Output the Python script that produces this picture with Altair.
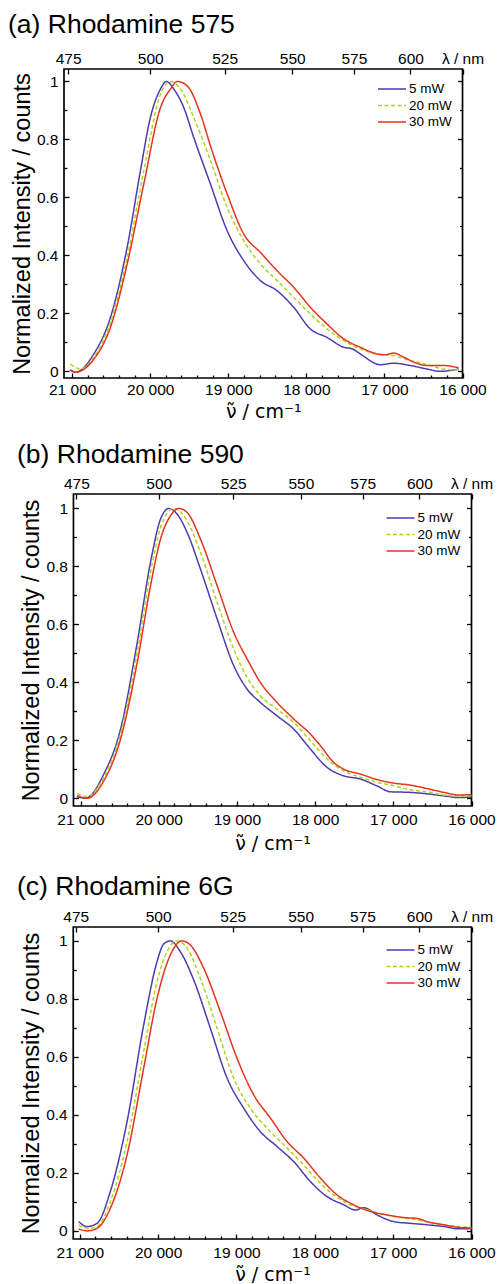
import altair as alt
import pandas as pd

FONT = "Liberation Sans"
SERIES = ["5 mW", "20 mW", "30 mW"]
COLORS = ["#4B3DAF", "#AFD31B", "#E5331D"]
DASHES = [[1, 0], [4, 2.5], [1, 0]]

X_MAJOR = [21000, 20000, 19000, 18000, 17000, 16000]
X_MINOR = [20800, 20600, 20400, 20200, 19800, 19600, 19400, 19200, 18800, 18600,
           18400, 18200, 17800, 17600, 17400, 17200, 16800, 16600, 16400, 16200]
NM_TICKS = [475, 500, 525, 550, 575, 600]
Y_MAJOR = [0, 0.2, 0.4, 0.6, 0.8, 1]
Y_MINOR = [0.1, 0.3, 0.5, 0.7, 0.9]

# ---- (a) Rhodamine 575 ----
A5_NU = [21030, 20958, 20723, 20510, 20296, 20126, 19998, 19869, 19793, 19699, 19571, 19443,
         19229, 19015, 18803, 18589, 18375, 18163, 17949, 17735, 17522, 17415, 17309, 17053,
         16882, 16668, 16455, 16284, 16050]
A5_Y = [0.005, -0.003, 0.06, 0.186, 0.428, 0.692, 0.876, 0.974, 1.0, 0.974, 0.91, 0.807,
        0.646, 0.485, 0.382, 0.313, 0.278, 0.221, 0.146, 0.117, 0.083, 0.078, 0.06, 0.023,
        0.028, 0.02, 0.008, 0.0, 0.008]
A20_NU = [21022, 20894, 20723, 20510, 20296, 20083, 19869, 19741, 19613, 19443, 19229, 19015,
          18803, 18589, 18375, 18163, 17949, 17735, 17522, 17309, 17095, 16882, 16668, 16455,
          16242, 16050]
A20_Y = [0.025, 0.008, 0.048, 0.169, 0.393, 0.692, 0.956, 1.0, 0.974, 0.876, 0.727, 0.566,
         0.451, 0.37, 0.313, 0.255, 0.198, 0.146, 0.106, 0.077, 0.06, 0.054, 0.037, 0.023,
         0.008, 0.005]
A30_NU = [21022, 20958, 20723, 20510, 20296, 20083, 19869, 19741, 19655, 19528, 19357, 19229,
          19015, 18803, 18589, 18375, 18163, 17949, 17735, 17522, 17309, 17095, 16989, 16882,
          16754, 16626, 16455, 16242, 16050]
A30_Y = [0.005, -0.003, 0.042, 0.152, 0.37, 0.646, 0.91, 0.974, 1.0, 0.985, 0.888, 0.778,
         0.612, 0.474, 0.41, 0.347, 0.29, 0.221, 0.163, 0.112, 0.083, 0.06, 0.057, 0.063,
         0.049, 0.032, 0.02, 0.02, 0.012]

# ---- (b) Rhodamine 590 ----
B5_NU = [21043, 20936, 20702, 20488, 20275, 20105, 19977, 19871, 19763, 19636, 19465, 19252,
         19040, 18868, 18698, 18485, 18272, 18059, 17845, 17633, 17419, 17206, 17036, 16780,
         16566, 16354, 16162, 16000]
B5_Y = [0.005, 0.0, 0.083, 0.238, 0.537, 0.814, 0.963, 1.0, 0.98, 0.917, 0.79, 0.618,
        0.457, 0.376, 0.33, 0.284, 0.238, 0.169, 0.106, 0.077, 0.066, 0.042, 0.022, 0.02,
        0.015, 0.008, 0.002, 0.004]
B20_NU = [21043, 20914, 20702, 20488, 20275, 20105, 19977, 19807, 19679, 19465, 19252, 19040,
          18868, 18698, 18485, 18272, 18059, 17845, 17633, 17419, 17206, 16993, 16780, 16566,
          16354, 16162, 16000]
B20_Y = [0.016, 0.006, 0.072, 0.221, 0.503, 0.779, 0.934, 1.0, 0.975, 0.848, 0.675, 0.514,
         0.416, 0.353, 0.307, 0.261, 0.198, 0.135, 0.094, 0.072, 0.055, 0.043, 0.029, 0.022,
         0.011, 0.008, 0.008]
B30_NU = [21043, 20914, 20702, 20488, 20275, 20105, 19977, 19849, 19743, 19636, 19465, 19252,
          19040, 18868, 18698, 18485, 18272, 18059, 17931, 17761, 17633, 17419, 17206, 16993,
          16780, 16566, 16354, 16162, 16000]
B30_Y = [0.009, 0.0, 0.06, 0.204, 0.468, 0.733, 0.894, 0.975, 1.0, 0.986, 0.894, 0.733,
         0.572, 0.48, 0.399, 0.33, 0.273, 0.221, 0.181, 0.123, 0.1, 0.083, 0.064, 0.052,
         0.045, 0.033, 0.02, 0.011, 0.012]

# ---- (c) Rhodamine 6G ----
C5_NU = [21015, 20908, 20780, 20610, 20397, 20185, 20014, 19930, 19844, 19717, 19547, 19334,
         19120, 18908, 18695, 18482, 18270, 18057, 17843, 17631, 17482, 17375, 17205, 16993,
         16780, 16566, 16354, 16163, 16000]
C5_Y = [0.032, 0.015, 0.026, 0.136, 0.377, 0.71, 0.929, 0.989, 1.0, 0.963, 0.866, 0.699,
        0.527, 0.423, 0.342, 0.291, 0.239, 0.17, 0.118, 0.09, 0.072, 0.08, 0.055, 0.032,
        0.026, 0.021, 0.015, 0.007, 0.008]
C20_NU = [21015, 20908, 20780, 20610, 20397, 20185, 20014, 19886, 19759, 19631, 19461, 19248,
          19036, 18823, 18609, 18397, 18184, 17971, 17759, 17546, 17332, 17120, 16907, 16694,
          16482, 16163, 16000]
C20_Y = [0.021, 0.009, 0.015, 0.101, 0.308, 0.618, 0.86, 0.963, 1.0, 0.975, 0.871, 0.699,
         0.527, 0.423, 0.354, 0.297, 0.239, 0.176, 0.124, 0.09, 0.072, 0.057, 0.046, 0.038,
         0.026, 0.015, 0.012]
C30_NU = [21015, 20908, 20780, 20610, 20397, 20185, 20014, 19844, 19695, 19589, 19419, 19206,
          18993, 18780, 18567, 18354, 18142, 17929, 17716, 17504, 17290, 17077, 16865, 16694,
          16566, 16354, 16163, 16000]
C30_Y = [0.007, 0.0, 0.009, 0.078, 0.262, 0.561, 0.802, 0.952, 1.0, 0.986, 0.906, 0.756,
         0.595, 0.469, 0.389, 0.308, 0.251, 0.182, 0.124, 0.09, 0.067, 0.055, 0.046, 0.043,
         0.032, 0.021, 0.012, 0.01]

TITLES = ["(a) Rhodamine 575", "(b) Rhodamine 590", "(c) Rhodamine 6G"]

PLOT_W = 407.5
CFG = [
    dict(xdom=[15885, 21105], frame=[21105, 16000], ydom=[-0.023, 1.043], h=309,
         lshift=0, rshift=9, titlex=199.25, legx=313, legy=13, tdx=-56, toff=13,
         blpad=4, btpad=5),
    dict(xdom=[16000, 21211], frame=[21090, 16000], ydom=[-0.027, 1.05], h=312,
         lshift=9.5, rshift=0, titlex=208.5, legx=321.5, legy=17, tdx=-47, toff=8,
         blpad=6, btpad=7),
    dict(xdom=[16000, 21202], frame=[21084, 16000], ydom=[-0.028, 1.048], h=312,
         lshift=9.2, rshift=0, titlex=208.5, legx=321.5, legy=16, tdx=-47, toff=9,
         blpad=6, btpad=5),
]

TOP_VALUES = [1e7 / w for w in NM_TICKS] + [16000]

BOTTOM_EXPR = "replace(format(datum.value, ','), ',', ' ')"
LEFT_EXPR = ("datum.value == 0 ? '0' : datum.value == 1 ? '1' : "
             "format(datum.value, '.1f') + '\u00a0\u00a0'")
TOP_EXPR = "datum.value == 16000 ? 'λ / nm' : format(1e7 / datum.value, '.0f')"


def make_panel(title, cfg, series):
    rows = []
    for name, nus, vals in series:
        rows += [{"nu": n, "val": v, "series": name} for n, v in zip(nus, vals)]
    df = pd.DataFrame(rows)
    fr = pd.DataFrame([{"x1": cfg["frame"][0], "x2": cfg["frame"][1],
                        "y1": cfg["ydom"][0], "y2": cfg["ydom"][1]}])
    xs = alt.Scale(domain=cfg["xdom"], reverse=True, nice=False, zero=False)
    ysc = alt.Scale(domain=cfg["ydom"], nice=False, zero=False)
    ls, rs = cfg["lshift"], cfg["rshift"]
    common = dict(domain=False, grid=False, labelFlush=False, labelOverlap=False,
                  labelFontSize=15.5, tickWidth=1.3, tickColor="black")

    frame = alt.Chart(fr).mark_rect(filled=False, stroke="black", strokeWidth=1.7).encode(
        x=alt.X("x1:Q", scale=xs, axis=alt.Axis(
            orient="bottom", values=X_MAJOR, tickSize=5, offset=-5, labelPadding=cfg["blpad"],
            labelExpr=BOTTOM_EXPR, title="ν̃ / cm⁻¹", titleX=cfg["titlex"],
            titlePadding=cfg["btpad"], titleFontSize=19, titleFont="DejaVu Sans", **common)),
        x2="x2:Q",
        y=alt.Y("y1:Q", scale=ysc, axis=alt.Axis(
            orient="left", values=Y_MAJOR, tickSize=5, offset=-5 - ls, labelPadding=6,
            labelExpr=LEFT_EXPR, title="Normalized Intensity / counts",
            titleFontSize=23.5, titlePadding=2, **common)),
        y2="y2:Q",
    )

    leg = alt.Legend(title=None, orient="none", legendX=cfg["legx"], legendY=cfg["legy"],
                     symbolType="stroke", symbolSize=784, symbolStrokeWidth=1.5,
                     labelFont=FONT, labelFontSize=13.5, labelOffset=2, rowPadding=2.5,
                     clipHeight=14, padding=0, labelColor="black")
    lines = alt.Chart(df).mark_line(strokeWidth=1.5, interpolate="monotone").encode(
        x=alt.X("nu:Q", scale=xs, axis=alt.Axis(
            orient="bottom", values=X_MINOR, tickSize=3, offset=-3, labels=False,
            title=None, **common)),
        y=alt.Y("val:Q", scale=ysc, axis=alt.Axis(
            orient="left", values=Y_MINOR, tickSize=3, offset=-3 - ls, labels=False,
            title=None, **common)),
        color=alt.Color("series:N", scale=alt.Scale(domain=SERIES, range=COLORS), legend=leg),
        strokeDash=alt.StrokeDash("series:N", scale=alt.Scale(domain=SERIES, range=DASHES),
                                  legend=leg),
    )

    top = alt.Chart(fr).mark_point(opacity=0).encode(
        x=alt.X("x1:Q", scale=xs, axis=alt.Axis(
            orient="top", values=TOP_VALUES, tickSize=5, offset=-5, labelPadding=3,
            labelExpr=TOP_EXPR, title=None, **common)),
        y=alt.Y("y1:Q", scale=ysc, axis=alt.Axis(
            orient="right", values=Y_MAJOR, tickSize=5, offset=-5 - rs, labels=False,
            title=None, **common)),
    )
    right_minor = alt.Chart(fr).mark_point(opacity=0).encode(
        x=alt.X("x2:Q", scale=xs, axis=None),
        y=alt.Y("y2:Q", scale=ysc, axis=alt.Axis(
            orient="right", values=Y_MINOR, tickSize=3, offset=-3 - rs, labels=False,
            title=None, **common)),
    )

    return alt.layer(frame, lines, top, right_minor).resolve_axis(
        x="independent", y="independent"
    ).properties(
        width=PLOT_W, height=cfg["h"],
        title=alt.TitleParams(text=title, anchor="start", frame="group", dx=cfg["tdx"],
                              offset=cfg["toff"], fontSize=26.5, font=FONT,
                              fontWeight="normal", color="black"),
    )


pa = make_panel(TITLES[0], CFG[0], [(SERIES[0], A5_NU, A5_Y), (SERIES[1], A20_NU, A20_Y),
                                    (SERIES[2], A30_NU, A30_Y)])
pb = make_panel(TITLES[1], CFG[1], [(SERIES[0], B5_NU, B5_Y), (SERIES[1], B20_NU, B20_Y),
                                    (SERIES[2], B30_NU, B30_Y)])
pc = make_panel(TITLES[2], CFG[2], [(SERIES[0], C5_NU, C5_Y), (SERIES[1], C20_NU, C20_Y),
                                    (SERIES[2], C30_NU, C30_Y)])

chart = alt.vconcat(pa, pb, pc, spacing=19).resolve_scale(
    color="independent", strokeDash="independent"
).properties(
    padding={"left": 8, "top": 11, "right": 0, "bottom": 0}
).configure_view(stroke=None).configure_axis(
    labelFont=FONT, titleFont=FONT, labelColor="black", titleColor="black",
    titleFontWeight="normal"
)

chart.save("out.html", embed_options={"renderer": "svg", "actions": False})
